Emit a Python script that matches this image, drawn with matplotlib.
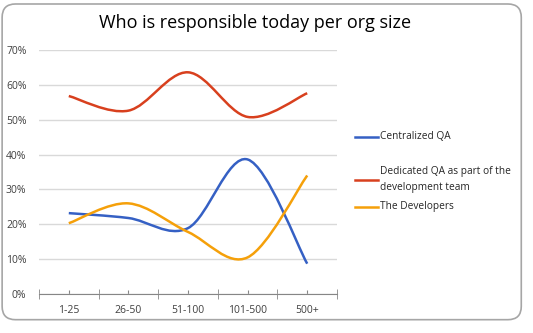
import matplotlib.pyplot as plt
import numpy as np
from matplotlib.path import Path
from matplotlib.patches import PathPatch, FancyBboxPatch
from matplotlib.lines import Line2D

# data
categories = ["1-25", "26-50", "51-100", "101-500", "500+"]
centralized_qa = [23.2, 21.8, 18.9, 38.6, 8.7]
dedicated_qa = [56.8, 52.6, 63.6, 50.8, 57.6]
developers = [20.3, 26.0, 17.8, 10.5, 34.0]

series_names = ["Centralized QA", "Dedicated QA as part of the\ndevelopment team", "The Developers"]
colors = ["#3560c4", "#d8401e", "#f5a00a"]
y_ticks = [0, 10, 20, 30, 40, 50, 60, 70]

W, H = 533, 333
plt.rcParams['font.family'] = ['Open Sans', 'DejaVu Sans']


def smooth_path(xs, ys):
    # Excel-like smoothed line: cardinal spline as cubic Bezier segments
    xs = np.asarray(xs, float)
    ys = np.asarray(ys, float)
    n = len(xs)
    verts = [(xs[0], ys[0])]
    codes = [Path.MOVETO]
    for i in range(n - 1):
        i0 = max(i - 1, 0)
        i3 = min(i + 2, n - 1)
        c1 = (xs[i] + (xs[i + 1] - xs[i0]) / 6, ys[i] + (ys[i + 1] - ys[i0]) / 6)
        c2 = (xs[i + 1] - (xs[i3] - xs[i]) / 6, ys[i + 1] - (ys[i3] - ys[i]) / 6)
        verts += [c1, c2, (xs[i + 1], ys[i + 1])]
        codes += [Path.CURVE4] * 3
    return Path(verts, codes)


fig = plt.figure(figsize=(W / 100, H / 100), dpi=100)

# chart border (behind the axes)
border = FancyBboxPatch((0.004, 0.04), 0.974, 0.948, boxstyle="round,pad=0,rounding_size=0.025",
                        transform=fig.transFigure, fc="white", ec="#a6a6a6", lw=1.2,
                        mutation_aspect=W / H, zorder=-5)
fig.patches.append(border)

# plot area: x 39..337 px, y 50..294 px
ax = fig.add_axes([39 / W, 1 - 294 / H, (337 - 39) / W, (294 - 50) / H])
ax.patch.set_alpha(0)

x = np.arange(len(categories))
for vals, c in zip([centralized_qa, dedicated_qa, developers], colors):
    ax.add_patch(PathPatch(smooth_path(x, vals), fc="none", ec=c, lw=1.8, capstyle="butt"))

ax.set_xlim(-0.5, len(categories) - 0.5)
ax.set_ylim(0, 70)
ax.set_yticks(y_ticks)
ax.set_yticklabels([f"{v}%" for v in y_ticks])
ax.yaxis.grid(True, color="#d9d9d9", lw=1)
ax.set_axisbelow(True)
ax.tick_params(axis="y", length=0, labelsize=7.5, colors="#404040", pad=9)

ax.set_xticks(x)
ax.set_xticklabels(categories)
ax.set_xticks(np.arange(len(categories) + 1) - 0.5, minor=True)
ax.tick_params(axis="x", which="major", length=3, direction="in", color="#868686", labelsize=7.5,
               labelcolor="#404040", pad=8)
ax.tick_params(axis="x", which="minor", length=7, direction="inout", color="#868686")
for s in ["top", "right", "left"]:
    ax.spines[s].set_visible(False)
ax.spines["bottom"].set_color("#868686")

fig.text(0.478, 0.932, "Who is responsible today per org size", ha="center", va="center",
         fontsize=13, color="black")

# legend, placed entry by entry like Excel does
legend_y = [137, 179.5, 207]
for name, c, yy in zip(series_names, colors, legend_y):
    fig.add_artist(Line2D([355 / W, 378 / W], [1 - yy / H] * 2, color=c, lw=1.8,
                          transform=fig.transFigure))
    fig.text(380 / W, 1 - yy / H, name, ha="left", va="center", fontsize=7.3,
             color="#262626", linespacing=1.55)

fig.savefig("out.png", dpi=100, facecolor="white")
